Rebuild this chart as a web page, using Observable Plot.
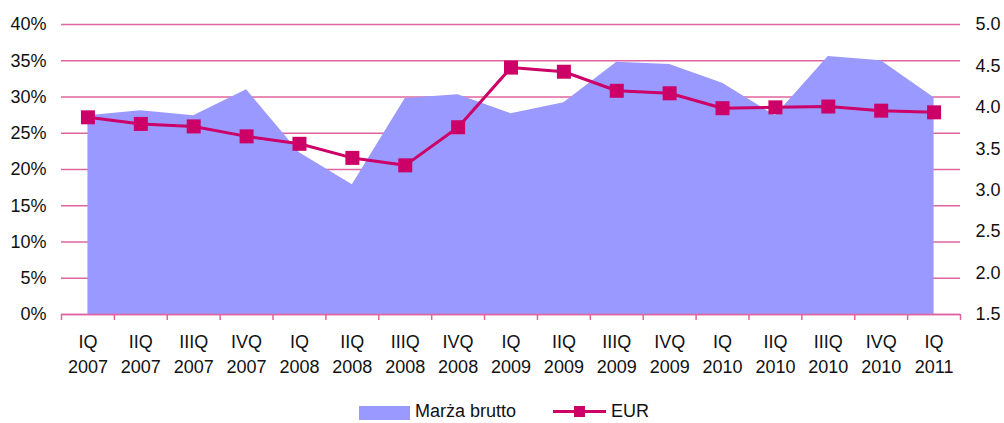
<!DOCTYPE html>
<html>
<head>
<meta charset="utf-8">
<script src="https://cdn.jsdelivr.net/npm/d3@7"></script>
<script src="https://cdn.jsdelivr.net/npm/@observablehq/plot@0.6"></script>
<style>
  html, body { margin: 0; padding: 0; background: #fff; }
  body { width: 1004px; height: 423px; overflow: hidden; position: relative; font-family: "Liberation Sans", Arial, sans-serif; }
  #legend { position: absolute; left: 0; top: 398px; width: 1004px; height: 25px; font-size: 18px; color: #111; }
  .sw-area { position: absolute; left: 359px; top: 8px; width: 51px; height: 14px; background: #9999ff; }
  .lbl { position: absolute; top: 3px; line-height: 20px; }
  .sw-line { position: absolute; left: 553px; top: 12px; width: 53px; height: 3px; background: #cc0066; }
  .sw-mark { position: absolute; left: 574px; top: 8px; width: 11px; height: 11px; background: #cc0066; }
</style>
</head>
<body>
<div id="chart"></div>
<div id="legend"></div>
<script>
const quarters = ["IQ","IIQ","IIIQ","IVQ","IQ","IIQ","IIIQ","IVQ","IQ","IIQ","IIIQ","IVQ","IQ","IIQ","IIIQ","IVQ","IQ"];
const years = ["2007","2007","2007","2007","2008","2008","2008","2008","2009","2009","2009","2009","2010","2010","2010","2010","2011"];
const marza = [27.4, 28.1, 27.4, 31.0, 22.3, 17.9, 29.8, 30.3, 27.7, 29.2, 34.8, 34.5, 31.9, 27.4, 35.6, 35.0, 29.9];
const eur = [3.88, 3.80, 3.77, 3.65, 3.56, 3.39, 3.30, 3.76, 4.48, 4.43, 4.20, 4.17, 3.99, 4.00, 4.01, 3.96, 3.94];
const leftTicks = [0, 5, 10, 15, 20, 25, 30, 35, 40];
const rightTicks = [1.5, 2.0, 2.5, 3.0, 3.5, 4.0, 4.5, 5.0];
const seriesNames = ["Marża brutto", "EUR"];

const areaColor = "#9999ff";
const lineColor = "#cc0066";
const gridColor = "#e0649f";

// map EUR axis [1.5, 5.0] onto the left percent axis [0, 40]
const eurToY = d3.scaleLinear().domain([1.5, 5.0]).range([0, 40]);

const idx = d3.range(quarters.length);
const areaData = idx.map(i => ({i, v: marza[i]}));
const eurData = idx.map(i => ({i, v: eurToY(eur[i])}));
const boundaries = d3.range(quarters.length + 1).map(i => i - 0.5);

const chart = Plot.plot({
  width: 1004,
  height: 398,
  marginLeft: 61,
  marginRight: 44,
  marginTop: 24,
  marginBottom: 84,
  style: { fontFamily: "Liberation Sans, Arial, sans-serif", fontSize: "18px", color: "#111", background: "#fff" },
  x: { domain: [-0.5, quarters.length - 0.5] },
  y: { domain: [0, 40] },
  marks: [
    Plot.ruleY(leftTicks, { stroke: gridColor, strokeWidth: 1.5 }),
    Plot.areaY(areaData, { x: "i", y: "v", fill: areaColor }),
    Plot.ruleY([0], { stroke: gridColor, strokeWidth: 1.5 }),
    Plot.axisY({ anchor: "left", ticks: leftTicks, tickSize: 0, tickPadding: 15, tickFormat: d => d + "%", label: null, fill: "#111" }),
    Plot.axisY({ anchor: "right", ticks: rightTicks.map(v => eurToY(v)), tickSize: 0, tickPadding: 15, tickFormat: d => eurToY.invert(d).toFixed(1), label: null, fill: "#111", textAnchor: "start" }),
    Plot.axisX({ ticks: boundaries, tickSize: 6, tickFormat: () => "", stroke: gridColor, strokeWidth: 1.5, label: null }),
    Plot.axisX({ ticks: idx, tickSize: 0, tickPadding: 16, lineHeight: 1.39, tickFormat: i => quarters[i] + "\n" + years[i], label: null, fill: "#111" }),
    Plot.line(eurData, { x: "i", y: "v", stroke: lineColor, strokeWidth: 3 }),
    Plot.dot(eurData, { x: "i", y: "v", symbol: "square", r: 7.9, fill: lineColor, stroke: "none" })
  ]
});
document.getElementById("chart").appendChild(chart);

const legend = document.getElementById("legend");
legend.innerHTML =
  '<div class="sw-area"></div><div class="lbl" style="left:415px">' + seriesNames[0] + '</div>' +
  '<div class="sw-line"></div><div class="sw-mark"></div><div class="lbl" style="left:611px">' + seriesNames[1] + '</div>';
</script>
</body>
</html>
